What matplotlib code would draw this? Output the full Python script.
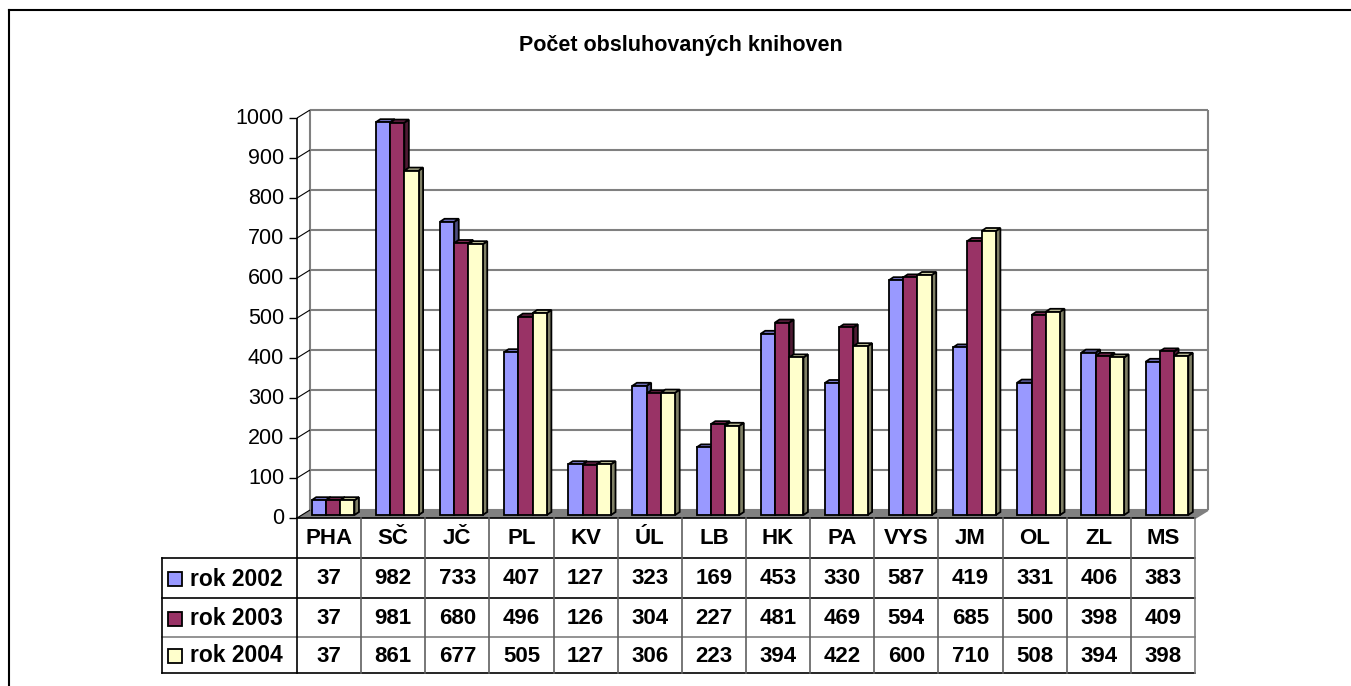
import matplotlib
matplotlib.use('Agg')
import matplotlib.pyplot as plt
from matplotlib.patches import Polygon, Rectangle
from matplotlib.lines import Line2D
from matplotlib.transforms import Affine2D, IdentityTransform, ScaledTranslation

plt.rcParams['font.family'] = ['Liberation Sans', 'DejaVu Sans']

# ---------------- data ----------------
categories = ['PHA', 'SČ', 'JČ', 'PL', 'KV', 'ÚL', 'LB', 'HK', 'PA', 'VYS', 'JM', 'OL', 'ZL', 'MS']
series_names = ['rok 2002', 'rok 2003', 'rok 2004']
v2002 = [37, 982, 733, 407, 127, 323, 169, 453, 330, 587, 419, 331, 406, 383]
v2003 = [37, 981, 680, 496, 126, 304, 227, 481, 469, 594, 685, 500, 398, 409]
v2004 = [37, 861, 677, 505, 127, 306, 223, 394, 422, 600, 710, 508, 394, 398]
y_ticks = [0, 100, 200, 300, 400, 500, 600, 700, 800, 900, 1000]
title = 'Počet obsluhovaných knihoven'

series = [v2002, v2003, v2004]
face_c = ['#9999FF', '#993366', '#FFFFCC']
side_c = ['#4D4D80', '#4D1A33', '#808066']
top_c = ['#7A7ACC', '#7A2952', '#CCCCA3']

# ---------------- layout ----------------
W, H = 1351, 686
fig = plt.figure(figsize=(W / 100, H / 100), dpi=100)
X0, X1 = 297, 1195
Y0, Y1 = 518, 118
ax = fig.add_axes([X0 / W, (H - Y0) / H, (X1 - X0) / W, (Y0 - Y1) / H])
n = len(categories)
ax.set_xlim(0, n)
ax.set_ylim(0, y_ticks[-1])
ax.axis('off')

pix = Affine2D().scale(1, -1).translate(0, H)   # pixel coords, origin top-left
ident = IdentityTransform()


def D(x, y, dx=0.0, dy=0.0):
    px, py = ax.transData.transform((x, y))
    return (px + dx, py + dy)


def line(p, q, color, lw, z=1):
    fig.add_artist(Line2D([p[0], q[0]], [p[1], q[1]], color=color, lw=lw,
                          transform=ident, zorder=z, solid_capstyle='butt'))


def poly(pts, fc, ec='black', lw=1.3, z=2):
    fig.add_artist(Polygon(pts, closed=True, facecolor=fc, edgecolor=ec, lw=lw,
                           transform=ident, zorder=z, joinstyle='miter'))


WX, WY = 13, 8       # wall depth
FX, FY = 4, 3        # bar front offset
BX, BY = 8.5, 6      # bar back offset
ymax = y_ticks[-1]

# floor
poly([D(0, 0), D(n, 0), D(n, 0, WX, WY), D(0, 0, WX, WY)], '#808080', ec='none', z=1)

# back wall gridlines and edges
for v in y_ticks:
    line(D(0, v, WX, WY), D(n, v, WX, WY), '#808080', 1.5, z=1)
line(D(0, 0, WX, WY), D(0, ymax, WX, WY), '#808080', 1.5, z=1)
line(D(n, 0, WX, WY), D(n, ymax, WX, WY), '#808080', 1.5, z=1)
line(D(n, 0), D(n, 0, WX, WY), '#808080', 1.5, z=1)

# left wall lines, axis, ticks
for v in y_ticks:
    line(D(0, v), D(0, v, WX, WY), 'black', 0.8, z=1.5)
    line(D(0, v, -8, 0), D(0, v), 'black', 1.0, z=1.5)
    ax.text(0, v, str(v), transform=ax.transData + ScaledTranslation(-13 / 100, 0, fig.dpi_scale_trans),
            ha='right', va='center', fontsize=15.5, color='black')
line(D(0, 0), D(0, ymax), 'black', 1.2, z=1.5)

# bars
w = 1 / 4.5
for i in range(n):
    for s in range(3):
        v = series[s][i]
        x0 = i + 0.5 - 1.5 * w + s * w
        x1 = x0 + w
        poly([D(x1, 0, FX, FY), D(x1, v, FX, FY), D(x1, v, BX, BY), D(x1, 0, BX, BY)], side_c[s], z=3)
        poly([D(x0, v, FX, FY), D(x1, v, FX, FY), D(x1, v, BX, BY), D(x0, v, BX, BY)], top_c[s], z=3)
        poly([D(x0, 0, FX, FY), D(x1, 0, FX, FY), D(x1, v, FX, FY), D(x0, v, FX, FY)], face_c[s], z=3)

# ---------------- data table ----------------
rows_y = [518, 558, 598, 637, 673]
LX = 162
col_xp = [D(i, 0)[0] for i in range(n + 1)]


def pline(p, q, color, lw, z=4):
    fig.add_artist(Line2D([p[0], q[0]], [p[1], q[1]], color=color, lw=lw,
                          transform=pix, zorder=z, solid_capstyle='projecting'))


# horizontal lines
pline((col_xp[0], rows_y[0]), (col_xp[-1], rows_y[0]), 'black', 1.2)
pline((LX, rows_y[1]), (col_xp[-1], rows_y[1]), 'black', 1.2)
pline((LX, rows_y[2]), (col_xp[-1], rows_y[2]), 'black', 1.2)
pline((LX, rows_y[3]), (col_xp[-1], rows_y[3]), '#808080', 1.2)
pline((LX, rows_y[4]), (col_xp[-1], rows_y[4]), 'black', 1.2)
# vertical lines
pline((LX, rows_y[1]), (LX, rows_y[4]), 'black', 1.2)
pline((col_xp[0], rows_y[0]), (col_xp[0], rows_y[4]), 'black', 1.2)
for cx in col_xp[1:-1]:
    pline((cx, rows_y[0]), (cx, rows_y[4]), '#606060', 1.2)
pline((col_xp[-1], rows_y[0]), (col_xp[-1], rows_y[4]), '#808080', 1.2)

# header labels
for i, c in enumerate(categories):
    fig.text((col_xp[i] + col_xp[i + 1]) / 2, (rows_y[0] + rows_y[1]) / 2 + 1, c, transform=pix,
             ha='center', va='center', fontsize=16, fontweight='bold')
# rows
for s in range(3):
    yc = (rows_y[s + 1] + rows_y[s + 2]) / 2 + 1
    fig.add_artist(Rectangle((168, yc - 7), 14, 14, facecolor=face_c[s], edgecolor='black',
                             lw=1.3, transform=pix, zorder=5))
    fig.text(190, yc, series_names[s], transform=pix, ha='left', va='center',
             fontsize=16.5, fontweight='bold')
    for i in range(n):
        fig.text((col_xp[i] + col_xp[i + 1]) / 2, yc, str(series[s][i]), transform=pix,
                 ha='center', va='center', fontsize=16, fontweight='bold')

# title
fig.text(681, 45, title, transform=pix, ha='center', va='center', fontsize=15.5, fontweight='bold')

# outer frame (top and left visible)
pline((9, 10), (W, 10), 'black', 1.5, z=6)
pline((9, 10), (9, H), 'black', 1.5, z=6)

fig.savefig('out.png', dpi=100)
